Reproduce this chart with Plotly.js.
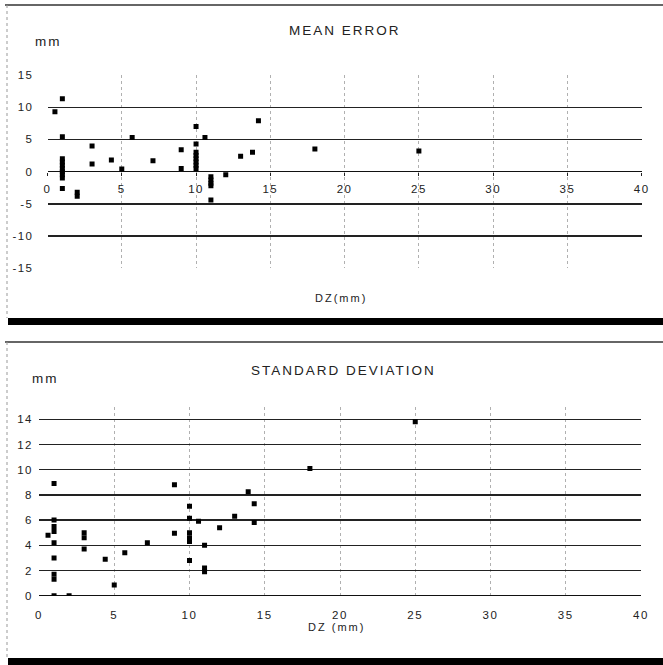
<!DOCTYPE html>
<html><head><meta charset="utf-8">
<script src="https://cdn.plot.ly/plotly-3.0.1.min.js"></script>
<style>html,body{margin:0;padding:0;background:#fff}</style>
</head><body><div id="chart" style="width:663px;height:665px"></div>
<script>
// ---- data ----
const meanDZ  = [0.5, 1, 1, 1, 1, 1, 1, 1, 1, 1, 1, 2, 2, 3, 3, 4.3, 5, 5.7, 7.1, 9, 9, 10, 10, 10, 10, 10, 10, 10, 10, 10.6, 11, 11, 11, 11, 11, 12, 13, 13.8, 14.2, 18, 25];
const meanErr = [9.3, 11.3, 5.4, 2.0, 1.5, 1.0, 0.5, 0.0, -0.5, -1.0, -2.6, -3.2, -3.8, 4.0, 1.2, 1.8, 0.4, 5.3, 1.7, 3.4, 0.5, 7.0, 4.3, 3.0, 2.5, 2.0, 1.5, 1.0, 0.5, 5.3, -0.8, -1.3, -1.8, -2.2, -4.4, -0.5, 2.4, 3.0, 7.9, 3.5, 3.2];
const sdDZ  = [0.6, 1, 1, 1, 1, 1, 1, 1, 1, 1, 2, 3, 3, 3, 4.4, 5, 5.7, 7.2, 9, 9, 10, 10, 10, 10, 10, 10, 10.6, 11, 11, 11, 12, 13, 13.9, 14.3, 14.3, 18, 25];
const sdVal = [4.8, 8.9, 6.0, 5.5, 5.1, 4.2, 3.0, 1.7, 1.3, 0.0, 0.0, 5.0, 4.6, 3.7, 2.9, 0.85, 3.4, 4.2, 8.8, 4.95, 7.1, 6.15, 5.0, 4.6, 4.3, 2.8, 5.9, 4.0, 2.2, 1.9, 5.4, 6.3, 8.25, 7.3, 5.8, 10.1, 13.8];
const xTicks = [0, 5, 10, 15, 20, 25, 30, 35, 40];
const meanTicks = [15, 10, 5, 0, -5, -10, -15];
const meanTickText = ['15', '10', '5', '0', '-5', '-10', '-15'];
const sdTicks = [0, 2, 4, 6, 8, 10, 12, 14];
const titleTop = 'MEAN ERROR';
const titleBottom = 'STANDARD DEVIATION';
const unitLabel = 'mm';
const xLabelTop = 'DZ(mm)';
const xLabelBottom = 'DZ (mm)';

// ---- layout helpers ----
const W = 663, H = 665;
const fx = p => p / W;
const fy = p => 1 - p / H;
const FONT = 'Liberation Sans, Arial, sans-serif';

const topDom = { x: [fx(47.5), fx(641.7)], y: [fy(268.3), fy(75)] };
const botDom = { x: [fx(39), fx(641)], y: [fy(595.7), fy(406.7)] };

const marker = { symbol: 'square', size: 5, color: '#000' };

const traces = [
  { x: meanDZ, y: meanErr, type: 'scatter', mode: 'markers', marker: marker, xaxis: 'x', yaxis: 'y', hoverinfo: 'x+y' },
  { x: sdDZ, y: sdVal, type: 'scatter', mode: 'markers', marker: marker, xaxis: 'x2', yaxis: 'y2', hoverinfo: 'x+y' }
];

const tickFont = { family: FONT, size: 11.5, color: '#222' };

function rect(x0, y0, x1, y1, color) {
  return { type: 'rect', xref: 'paper', yref: 'paper', x0: fx(x0), x1: fx(x1), y0: fy(y1), y1: fy(y0), fillcolor: color, line: { width: 0 }, layer: 'above' };
}
function line(x0, y0, x1, y1, color, width, dash) {
  return { type: 'line', xref: 'paper', yref: 'paper', x0: fx(x0), x1: fx(x1), y0: fy(y0), y1: fy(y1), line: { color: color, width: width, dash: dash || 'solid' }, layer: 'above' };
}
function label(text, x, y, size) {
  return { text: text, xref: 'paper', yref: 'paper', x: fx(x), y: fy(y), xanchor: 'center', yanchor: 'middle', showarrow: false, font: { family: FONT, size: size, color: '#222' } };
}

const layout = {
  width: W, height: H,
  margin: { l: 0, r: 0, t: 0, b: 0, pad: 0 },
  paper_bgcolor: '#fff', plot_bgcolor: '#fff',
  showlegend: false,
  xaxis: {
    domain: topDom.x, range: [0, 40], anchor: 'free', position: (topDom.y[0] + topDom.y[1]) / 2,
    tickvals: xTicks, ticktext: xTicks.map(String),
    showgrid: true, gridcolor: '#b0b0b0', griddash: 'dot', gridwidth: 1,
    zeroline: false, showline: false,
    ticks: 'outside', ticklen: 3, tickcolor: '#222', tickwidth: 1,
    ticklabelstandoff: 4, tickfont: tickFont, fixedrange: true
  },
  yaxis: {
    domain: topDom.y, range: [-15, 15], anchor: 'x',
    tickvals: meanTicks, ticktext: meanTickText,
    showgrid: true, gridcolor: '#222', gridwidth: 1.3,
    zeroline: true, zerolinecolor: '#111', zerolinewidth: 1.5,
    showline: false, ticks: '', ticklabelstandoff: 13, tickfont: tickFont, fixedrange: true
  },
  xaxis2: {
    domain: botDom.x, range: [0, 40], anchor: 'y2',
    tickvals: xTicks, ticktext: xTicks.map(String),
    showgrid: true, gridcolor: '#b0b0b0', griddash: 'dot', gridwidth: 1,
    zeroline: false, showline: false, ticks: '',
    ticklabelstandoff: 11, tickfont: tickFont, fixedrange: true
  },
  yaxis2: {
    domain: botDom.y, range: [0, 15], anchor: 'x2',
    tickvals: sdTicks, ticktext: sdTicks.map(String),
    showgrid: true, gridcolor: '#222', gridwidth: 1.3,
    zeroline: true, zerolinecolor: '#111', zerolinewidth: 1.5,
    showline: false, ticks: '', ticklabelstandoff: 5, tickfont: tickFont, fixedrange: true
  },
  annotations: [
    label(titleTop, 345, 30, 13.5),
    label(unitLabel, 48, 42, 13.5),
    label(xLabelTop, 341, 298, 11),
    label(titleBottom, 343, 370, 13.5),
    label(unitLabel, 45, 378, 13.5),
    label(xLabelBottom, 336, 627, 11)
  ],
  shapes: [
    line(5, 5, 663, 5, '#333', 1.5),
    line(7, 5, 7, 318, '#999', 1, 'dot'),
    rect(8, 318, 663, 325, '#000'),
    line(5, 342, 663, 342, '#333', 1.5),
    line(7, 342, 7, 658, '#999', 1, 'dot'),
    rect(8, 658, 663, 665, '#000')
  ]
};

Plotly.newPlot('chart', traces, layout, { displayModeBar: false, staticPlot: true }).then(gd => {
  // widen letter spacing to mimic the scanned typewriter-like lettering
  gd.querySelectorAll('.annotation-text').forEach(t => { t.style.letterSpacing = '2px'; });
  gd.querySelectorAll('.xtick text, .ytick text, .x2tick text, .y2tick text').forEach(t => { t.style.letterSpacing = '1.5px'; });
});
</script>
</body></html>
